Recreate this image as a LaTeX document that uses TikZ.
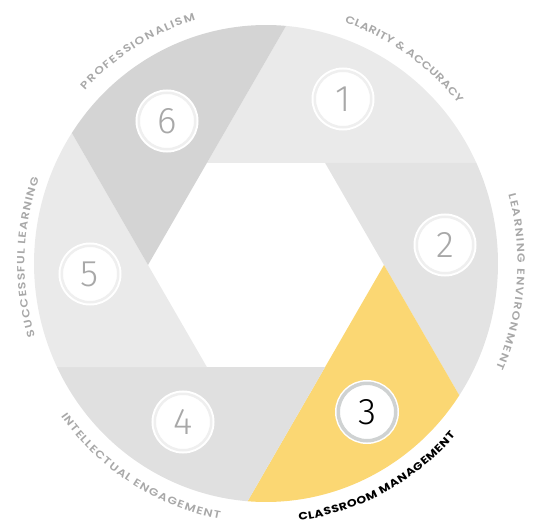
\documentclass[tikz,border=0pt]{standalone}
\usepackage{fontspec}
\setmainfont{Poppins}
\newfontfamily\numfont{Fira Sans}[UprightFont={* Light}]
\newfontfamily\labelfont{Poppins}[UprightFont={* SemiBold}, BoldFont={* Bold}, FakeStretch=1.18]
\usetikzlibrary{decorations.text}
\definecolor{bladelight}{HTML}{EAEAEA}
\definecolor{blademid}{HTML}{E3E3E3}
\definecolor{bladegrey}{HTML}{E0E0E0}
\definecolor{bladedark}{HTML}{D4D4D4}
\definecolor{bladeyellow}{HTML}{FBD773}
\definecolor{ringgrey}{HTML}{EFEFEF}
\definecolor{ringdark}{HTML}{CFD2D2}
\definecolor{labelgrey}{HTML}{A8A8A8}
\definecolor{numgrey}{HTML}{A8A8A8}
\tikzset{
  numdisk/.style={circle, fill=white, draw=ringgrey, line width=2.5pt, minimum size=56.5pt, inner sep=0pt,
    preaction={draw=white, line width=6.5pt}, text=numgrey, font=\numfont\fontsize{37}{37}\selectfont},
  numdiskon/.style={numdisk, draw=ringdark, line width=3.5pt, minimum size=57.5pt, text=black},
  arclabel/.style={decorate, text=labelgrey, font=\labelfont\fontsize{10.5}{10.5}\selectfont,
    decoration={text effects along path, text={#1}, text effects/.cd,
      characters={text=labelgrey, font=\labelfont\fontsize{10.5}{10.5}\selectfont}, text along path, fit text to path}},
  arclabelon/.style={decorate, text=black, font=\labelfont\fontsize{10.5}{10.5}\selectfont\bfseries,
    decoration={text effects along path, text={#1}, text effects/.cd,
      characters={text=black, font=\labelfont\fontsize{10.5}{10.5}\selectfont\bfseries}, text along path, fit text to path}},
}

\begin{document}
\begin{tikzpicture}[x=1pt, y=1pt]
			\useasboundingbox (0, 0) rectangle (535, 523);
			
			\begin{scope}[shift={(266, 259.5)}]
			%%%%% hexagon corners %%%%%
			\coordinate (v1) at (-59, 100.7);
			\coordinate (v2) at (59, 100.7);
			\coordinate (v3) at (118, -1.5);
			\coordinate (v4) at (59, -103.7);
			\coordinate (v5) at (-59, -103.7);
			\coordinate (v6) at (-118, -1.5);
			
			%%%%% blades %%%%%
			\fill[bladelight] (v1) -- (85.04:232 and 238.5) arc[start angle=85.04, end angle=24.97, x radius=232, y radius=238.5] -- (v2) -- cycle;
			\fill[blademid] (v2) -- (24.97:232 and 238.5) arc[start angle=24.97, end angle=-33.57, x radius=232, y radius=238.5] -- (v3) -- cycle;
			\fill[bladeyellow] (v3) -- (-33.57:232 and 238.5) arc[start angle=-33.57, end angle=-94.55, x radius=232, y radius=238.5] -- (v4) -- cycle;
			\fill[bladegrey] (v4) -- (-94.55:232 and 238.5) arc[start angle=-94.55, end angle=-154.23, x radius=232, y radius=238.5] -- (v5) -- cycle;
			\fill[bladelight] (v5) -- (-154.23:232 and 238.5) arc[start angle=-154.23, end angle=-213.18, x radius=232, y radius=238.5] -- (v6) -- cycle;
			\fill[bladedark] (v6) -- (146.82:232 and 238.5) arc[start angle=146.82, end angle=85.04, x radius=232, y radius=238.5] -- (v1) -- cycle;
			
			%%%%% numbers %%%%%
			\node[numdisk] (num1) at (77, 164.5) {1};
			\node[numdisk] (num2) at (179, 18.5) {2};
			\node[numdiskon] (num3) at (101, -148.5) {3};
			\node[numdisk] (num4) at (-83, -158.5) {4};
			\node[numdisk] (num5) at (-176, -10.5) {5};
			\node[numdisk] (num6) at (-99, 142.5) {6};
			
			%%%%% labels %%%%%
			\path[arclabel={PROFESSIONALISM}] (137:247.5 and 254) arc[start angle=137, end angle=106.5, x radius=247.5, y radius=254];
			\path[arclabel={CLARITY \& ACCURACY}] (71.5:247.5 and 254) arc[start angle=71.5, end angle=39, x radius=247.5, y radius=254];
			\path[arclabel={LEARNING ENVIRONMENT}] (15.5:251.5 and 258) arc[start angle=15.5, end angle=-24, x radius=251.5, y radius=258];
			\path[arclabel={SUCCESSFUL LEARNING}] (197:241.5 and 248) arc[start angle=197, end angle=160, x radius=241.5, y radius=248];
			\path[arclabel={INTELLECTUAL ENGAGEMENT}] (216:253.5 and 260) arc[start angle=216, end angle=259.5, x radius=253.5, y radius=260];
			\path[arclabelon={CLASSROOM MANAGEMENT}] (277.5:253 and 259.5) arc[start angle=277.5, end angle=318.5, x radius=253, y radius=259.5];
			\end{scope}
		\end{tikzpicture}
\end{document}
